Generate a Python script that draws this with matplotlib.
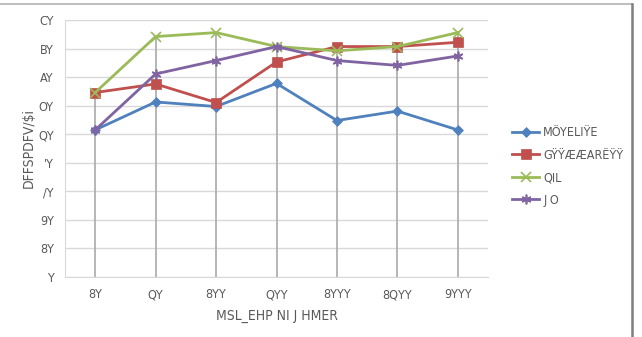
import numpy as np
import matplotlib
matplotlib.use('Agg')
import matplotlib.pyplot as plt
from matplotlib.lines import Line2D

plt.rcParams['font.family'] = ['DejaVu Sans']
plt.rcParams['font.stretch'] = 'condensed'

# categories (x tick labels as they appear in the picture)
x_labels = ['8Y', 'QY', '8YY', 'QYY', '8YYY', '8QYY', '9YYY']
y_ticks = [0, 10, 20, 30, 40, 50, 60, 70, 80, 90]
y_labels = ['Y', '8Y', '9Y', '/Y', "'Y", 'QY', 'OY', 'AY', 'BY', 'CY']

series_names = ['MÖYELIŸE', 'GŸŸÆÆARËŸŸ', 'QIL', 'J O']
s_blue = [51.5, 61.3, 59.7, 67.8, 54.8, 58.1, 51.5]
s_red = [64.6, 67.6, 61.1, 75.3, 80.7, 80.7, 82.2]
s_green = [64.6, 84.2, 85.6, 80.7, 79.2, 80.7, 85.6]
s_purple = [51.5, 71.1, 75.8, 80.7, 75.8, 74.1, 77.4]

colors = ['#4F81BD', '#C0504D', '#9BBB59', '#8064A2']
markers = ['D', 's', 'x', (6, 2, 0)]
msizes = [5.5, 6.5, 6.5, 7]

fig = plt.figure(figsize=(6.42, 3.37), dpi=100)
ax = fig.add_axes([65 / 642, 1 - 277 / 337, (488 - 65) / 642, (277 - 20) / 337])

x = np.arange(len(x_labels))
data = [s_blue, s_red, s_green, s_purple]

# drop lines
tops = np.max(np.array(data), axis=0)
ax.vlines(x, 0, tops, color='#b0b0b0', lw=1.3, zorder=1)

for vals, c, m, ms, name in zip(data, colors, markers, msizes, series_names):
    ax.plot(x, vals, color=c, lw=2, marker=m, markersize=ms,
            markeredgewidth=1.2 if m == 'x' or isinstance(m, tuple) else 0.5,
            markeredgecolor=c, label=name, zorder=3)

ax.set_xlim(-0.5, len(x_labels) - 0.5)
ax.set_ylim(0, 90)
ax.set_yticks(y_ticks)
ax.set_yticklabels(y_labels)
ax.set_xticks(x)
ax.set_xticklabels(x_labels)
ax.grid(axis='y', color='#d9d9d9', lw=1)
ax.set_axisbelow(True)
for side in ['top', 'right']:
    ax.spines[side].set_visible(False)
ax.spines['left'].set_color('#d9d9d9')
ax.spines['bottom'].set_color('#d9d9d9')
ax.tick_params(length=0, labelsize=9, colors='#595959', pad=8)

ax.set_ylabel('DFFSPDFV/$i', fontsize=10, color='#595959', labelpad=2)
ax.set_xlabel('MSL_EHP NI J HMER', fontsize=10, color='#595959', labelpad=6)

leg = ax.legend(loc='center left', bbox_to_anchor=(1.03, 0.43), frameon=False,
                fontsize=9, labelcolor='#595959', handlelength=2.2,
                handletextpad=0.3, labelspacing=0.75)

# chart border (top and right edges of the screenshot)
fig.add_artist(Line2D([0, 632 / 642], [1 - 4 / 337, 1 - 4 / 337], color='#bfbfbf', lw=1.5))
fig.add_artist(Line2D([632 / 642, 632 / 642], [0, 1 - 4 / 337], color='#7f7f7f', lw=1.8))

fig.savefig('out.png', dpi=100)
